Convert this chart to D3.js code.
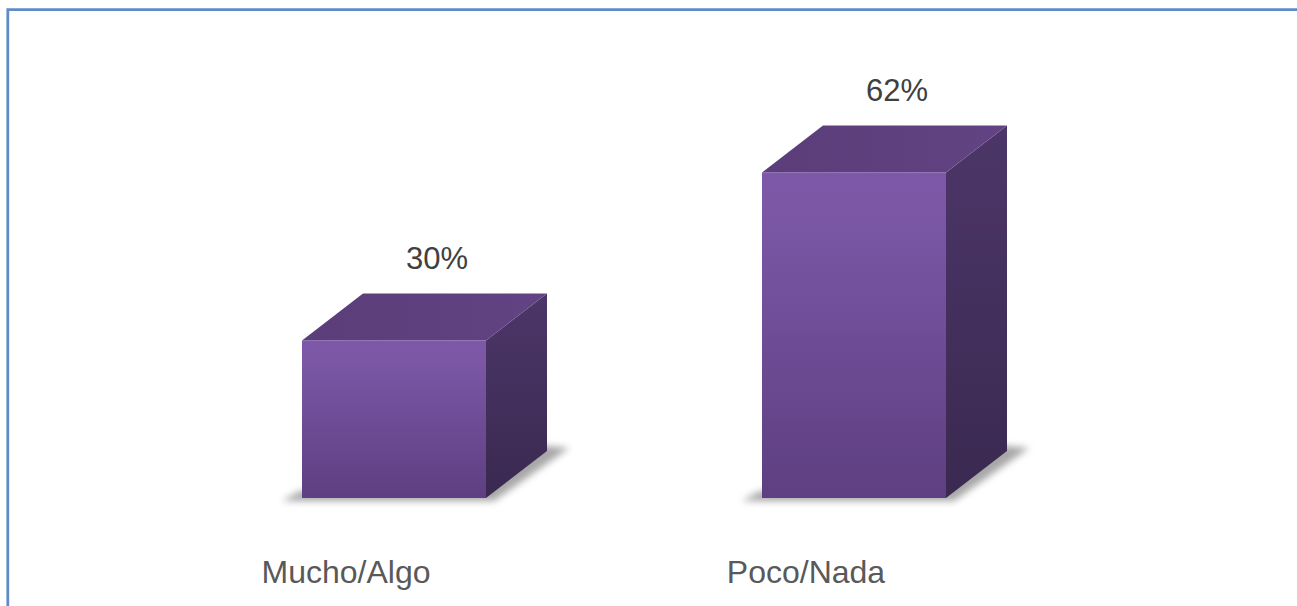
<!DOCTYPE html>
<html lang="es">
  <head>
    <meta charset="utf-8" />
    <script src="https://d3js.org/d3.v7.min.js" charset="utf-8"></script>
  </head>

  <style>
    html,
    body {
      margin: 0;
      padding: 0;
      background: #ffffff;
      overflow: hidden;
    }

    body {
      font-family: 'Liberation Sans', Arial, sans-serif;
    }

    .value-label {
      font-size: 31px;
      fill: #404040;
    }

    .cat-label {
      font-size: 32px;
      fill: #595959;
    }
  </style>

  <body>
    <div id="plot-container"></div>

    <script type="text/javascript">
      // data //--------------------------------------------------------

      var categories = ['Mucho/Algo', 'Poco/Nada'];
      var values = [0.3, 0.62];
      var value_labels = ['30%', '62%'];

      // dimensions //--------------------------------------------------

      var container_dimensions = { width: 1297, height: 606 };

      // 3d depth of each box (in px)
      var depth = { dx: 61, dy: 47 };

      var svg = d3
        .select('#plot-container')
        .append('svg')
        .attr('width', container_dimensions.width)
        .attr('height', container_dimensions.height);

      // scales //------------------------------------------------------

      var scale_x = d3
        .scaleBand()
        .domain(categories)
        .range([72, 1176])
        .paddingInner(0.6)
        .paddingOuter(0.5);

      var scale_y = d3.scaleLinear().domain([0, 0.7]).range([498, 130.5]);

      // gradients + shadow filter //-----------------------------------

      var defs = svg.append('defs');

      function VerticalGradient(id, stops) {
        var g = defs
          .append('linearGradient')
          .attr('id', id)
          .attr('x1', 0)
          .attr('y1', 0)
          .attr('x2', 0)
          .attr('y2', 1);
        stops.forEach(function (s) {
          g.append('stop').attr('offset', s[0]).attr('stop-color', s[1]);
        });
      }

      VerticalGradient('grad-front', [
        [0, '#7d58a8'],
        [0.12, '#7b57a6'],
        [1, '#5e3f81'],
      ]);
      VerticalGradient('grad-side', [
        [0, '#4c3669'],
        [1, '#3a2950'],
      ]);

      var grad_top = defs
        .append('linearGradient')
        .attr('id', 'grad-top')
        .attr('x1', 0)
        .attr('y1', 0)
        .attr('x2', 1)
        .attr('y2', 0);
      grad_top.append('stop').attr('offset', 0).attr('stop-color', '#5a3d79');
      grad_top.append('stop').attr('offset', 1).attr('stop-color', '#624383');

      defs
        .append('filter')
        .attr('id', 'blur')
        .attr('x', '-20%')
        .attr('y', '-50%')
        .attr('width', '140%')
        .attr('height', '200%')
        .append('feGaussianBlur')
        .attr('stdDeviation', 3.5);

      // border //------------------------------------------------------

      svg
        .append('path')
        .attr('d', 'M7.8,' + container_dimensions.height + 'V9.6H' + container_dimensions.width)
        .attr('fill', 'none')
        .attr('stroke', '#5f8cc6')
        .attr('stroke-width', 2.8);

      // boxes //-------------------------------------------------------

      var bars = svg
        .append('g')
        .attr('class', 'bars')
        .selectAll('g')
        .data(categories)
        .enter()
        .append('g');

      // soft shadow under each box
      bars
        .append('path')
        .attr('d', function (d) {
          var x0 = scale_x(d),
            x1 = x0 + scale_x.bandwidth(),
            y0 = scale_y(0);
          return (
            'M' + (x0 - 20) + ',' + (y0 + 3) +
            'L' + (x1 + 8) + ',' + (y0 + 3) +
            'L' + (x1 + depth.dx + 22) + ',' + (y0 - depth.dy - 3) +
            'L' + (x1 + depth.dx - 10) + ',' + (y0 - depth.dy - 6) +
            'L' + (x0 - 4) + ',' + (y0 - 6) + 'Z'
          );
        })
        .attr('fill', '#8a8a8a')
        .attr('opacity', 0.75)
        .attr('filter', 'url(#blur)');

      // right side face
      bars
        .append('path')
        .attr('d', function (d, i) {
          var x1 = scale_x(d) + scale_x.bandwidth(),
            yt = scale_y(values[i]),
            yb = scale_y(0);
          return (
            'M' + x1 + ',' + yt +
            'L' + (x1 + depth.dx) + ',' + (yt - depth.dy) +
            'L' + (x1 + depth.dx) + ',' + (yb - depth.dy) +
            'L' + x1 + ',' + yb + 'Z'
          );
        })
        .attr('fill', 'url(#grad-side)');

      // top face
      bars
        .append('path')
        .attr('d', function (d, i) {
          var x0 = scale_x(d),
            x1 = x0 + scale_x.bandwidth(),
            yt = scale_y(values[i]);
          return (
            'M' + x0 + ',' + yt +
            'L' + (x0 + depth.dx) + ',' + (yt - depth.dy) +
            'L' + (x1 + depth.dx) + ',' + (yt - depth.dy) +
            'L' + x1 + ',' + yt + 'Z'
          );
        })
        .attr('fill', 'url(#grad-top)');

      // front face
      bars
        .append('rect')
        .attr('x', function (d) {
          return scale_x(d);
        })
        .attr('y', function (d, i) {
          return scale_y(values[i]);
        })
        .attr('width', scale_x.bandwidth())
        .attr('height', function (d, i) {
          return scale_y(0) - scale_y(values[i]);
        })
        .attr('fill', 'url(#grad-front)');

      // faint highlight on the front-top edge
      bars
        .append('line')
        .attr('x1', function (d) {
          return scale_x(d);
        })
        .attr('x2', function (d) {
          return scale_x(d) + scale_x.bandwidth();
        })
        .attr('y1', function (d, i) {
          return scale_y(values[i]) + 0.5;
        })
        .attr('y2', function (d, i) {
          return scale_y(values[i]) + 0.5;
        })
        .attr('stroke', '#8a66b4')
        .attr('stroke-opacity', 0.6)
        .attr('stroke-width', 1);

      // value labels
      bars
        .append('text')
        .attr('class', 'value-label')
        .attr('text-anchor', 'middle')
        .attr('x', function (d) {
          return scale_x(d) + scale_x.bandwidth() / 2 + 43;
        })
        .attr('y', function (d, i) {
          return scale_y(values[i]) - depth.dy - 24.5;
        })
        .text(function (d, i) {
          return value_labels[i];
        });

      // category labels
      bars
        .append('text')
        .attr('class', 'cat-label')
        .attr('text-anchor', 'middle')
        .attr('x', function (d) {
          return scale_x(d) + scale_x.bandwidth() / 2 - 48;
        })
        .attr('y', 583)
        .text(function (d) {
          return d;
        });
    </script>
  </body>
</html>
